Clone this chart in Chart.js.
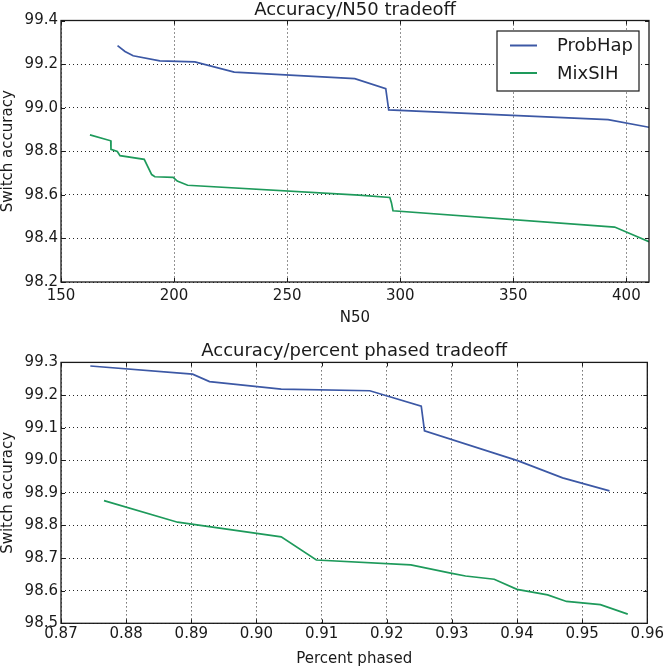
<!DOCTYPE html>
<html>
<head>
<meta charset="utf-8">
<script src="https://cdn.jsdelivr.net/npm/chart.js@4.4.1/dist/chart.umd.min.js"></script>
<style>
  html, body { margin: 0; padding: 0; background: #fff; }
  canvas { position: absolute; left: 0; display: block; }
  #n50Chart { top: 0; }
  #phasedChart { top: 333px; }
</style>
</head>
<body>
<canvas id="n50Chart" width="666" height="333"></canvas>
<canvas id="phasedChart" width="666" height="334"></canvas>
<script>
// --- data ---
const seriesNames = ['ProbHap', 'MixSIH'];

// Accuracy vs N50
const n50ProbHap = [175.0, 178.3, 181.9, 193.7, 209.2, 226.6, 279.9, 293.6, 294.9, 391.9, 410.0];
const accN50ProbHap = [99.285, 99.258, 99.238, 99.215, 99.210, 99.163, 99.133, 99.087, 98.990, 98.945, 98.910];
const n50MixSIH = [162.8, 172.0, 172.1, 174.9, 176.1, 186.8, 190.1, 191.5, 199.6, 201.4, 206.0, 281.7, 295.4, 296.1, 296.8, 394.8, 410.0];
const accN50MixSIH = [98.875, 98.848, 98.809, 98.799, 98.780, 98.763, 98.693, 98.683, 98.680, 98.663, 98.644, 98.599, 98.588, 98.564, 98.527, 98.452, 98.385];

// Accuracy vs percent phased
const pctProbHap = [0.8745, 0.8902, 0.8928, 0.9038, 0.9174, 0.9253, 0.9258, 0.9402, 0.9470, 0.9542];
const accPctProbHap = [99.289, 99.264, 99.241, 99.218, 99.213, 99.166, 99.090, 98.998, 98.946, 98.906];
const pctMixSIH = [0.8766, 0.8879, 0.9038, 0.9092, 0.9237, 0.9300, 0.9321, 0.9365, 0.9400, 0.9447, 0.9476, 0.9528, 0.9570];
const accPctMixSIH = [98.876, 98.810, 98.765, 98.694, 98.679, 98.653, 98.645, 98.635, 98.604, 98.587, 98.567, 98.557, 98.528];

// tick labels
const n50Ticks = [150, 200, 250, 300, 350, 400];
const n50AccTicks = [98.2, 98.4, 98.6, 98.8, 99.0, 99.2, 99.4];
const pctTicks = [0.87, 0.88, 0.89, 0.90, 0.91, 0.92, 0.93, 0.94, 0.95, 0.96];
const pctAccTicks = [98.5, 98.6, 98.7, 98.8, 98.9, 99.0, 99.1, 99.2, 99.3];

const FONT = '"DejaVu Sans", sans-serif';
const BLUE = '#3c58a5';
const GREEN = '#1e9a5b';
const INK = '#1a1a1a';

function toPoints(xs, ys) {
    return xs.map((x, i) => ({ x: x, y: ys[i] }));
}

function lineSet(label, xs, ys, color) {
    return {
        label: label,
        data: toPoints(xs, ys),
        borderColor: color,
        backgroundColor: color,
        borderWidth: 1.7,
        pointRadius: 0,
        tension: 0,
        fill: false,
    };
}

// frame, inward tick marks and the plot title
const framePlugin = {
    id: 'frame',
    afterDraw(chart, args, opts) {
        const { ctx, chartArea: a } = chart;
        const xs = chart.scales.x, ys = chart.scales.y;
        ctx.save();
        ctx.strokeStyle = INK;
        ctx.lineWidth = 1;
        ctx.beginPath();
        xs.ticks.forEach(t => {
            const px = Math.round(xs.getPixelForValue(t.value)) + 0.5;
            ctx.moveTo(px, a.bottom); ctx.lineTo(px, a.bottom - 4);
            ctx.moveTo(px, a.top); ctx.lineTo(px, a.top + 4);
        });
        ys.ticks.forEach(t => {
            const py = Math.round(ys.getPixelForValue(t.value)) + 0.5;
            ctx.moveTo(a.left, py); ctx.lineTo(a.left + 4, py);
            ctx.moveTo(a.right, py); ctx.lineTo(a.right - 4, py);
        });
        ctx.stroke();
        ctx.lineWidth = 1.3;
        ctx.strokeRect(a.left, a.top, a.right - a.left, a.bottom - a.top);

        ctx.fillStyle = INK;
        ctx.font = '18px ' + FONT;
        ctx.textAlign = 'center';
        ctx.textBaseline = 'alphabetic';
        ctx.fillText(opts.text, (a.left + a.right) / 2, opts.baseline);
        ctx.restore();
    }
};

// legend box drawn inside the plot, top right
const boxLegendPlugin = {
    id: 'boxLegend',
    afterDraw(chart, args, opts) {
        if (!opts.show) return;
        const ctx = chart.ctx;
        const a = chart.chartArea;
        const w = 142, h = 60;
        const bx = a.right - 10 - w, by = a.top + 10.5;
        ctx.save();
        ctx.fillStyle = '#fff';
        ctx.fillRect(bx, by, w, h);
        ctx.strokeStyle = INK;
        ctx.lineWidth = 1.2;
        ctx.strokeRect(bx, by, w, h);
        ctx.font = '18px ' + FONT;
        ctx.textAlign = 'left';
        ctx.textBaseline = 'middle';
        chart.data.datasets.forEach((ds, i) => {
            const y = by + 14.5 + i * 27.5;
            ctx.strokeStyle = ds.borderColor;
            ctx.lineWidth = 2;
            ctx.beginPath();
            ctx.moveTo(bx + 13, y);
            ctx.lineTo(bx + 40, y);
            ctx.stroke();
            ctx.fillStyle = INK;
            ctx.fillText(ds.label, bx + 60, y + 1);
        });
        ctx.restore();
    }
};

function makeChart(canvasId, cfg) {
    return new Chart(document.getElementById(canvasId), {
        type: 'line',
        data: {
            datasets: [
                lineSet(seriesNames[0], cfg.xs[0], cfg.ys[0], BLUE),
                lineSet(seriesNames[1], cfg.xs[1], cfg.ys[1], GREEN),
            ],
        },
        options: {
            responsive: false,
            animation: false,
            layout: { padding: { left: 0, right: 17, top: cfg.padTop, bottom: 0 } },
            plugins: {
                legend: { display: false },
                tooltip: { enabled: false },
                frame: { text: cfg.title, baseline: cfg.titleBaseline },
                boxLegend: { show: cfg.legend },
            },
            scales: {
                x: {
                    type: 'linear',
                    min: cfg.xMin,
                    max: cfg.xMax,
                    afterBuildTicks: s => { s.ticks = cfg.xTicks.map(v => ({ value: v })); },
                    afterFit: s => { s.height = cfg.xHeight; },
                    grid: { color: 'rgba(0,0,0,0.85)', lineWidth: 1, drawTicks: false },
                    border: { display: false, dash: [1, 3] },
                    ticks: {
                        color: INK,
                        padding: cfg.xTickPad,
                        autoSkip: false,
                        maxRotation: 0,
                        font: { family: FONT, size: 15 },
                        callback: v => Number(v).toFixed(cfg.xDigits),
                    },
                    title: {
                        display: true,
                        text: cfg.xTitle,
                        color: INK,
                        font: { family: FONT, size: 15, lineHeight: 1 },
                        padding: { top: 0, bottom: cfg.xTitlePad },
                    },
                },
                y: {
                    type: 'linear',
                    min: cfg.yMin,
                    max: cfg.yMax,
                    afterBuildTicks: s => { s.ticks = cfg.yTicks.map(v => ({ value: v })); },
                    afterFit: s => { s.width = 61; },
                    grid: { color: 'rgba(0,0,0,0.85)', lineWidth: 1, drawTicks: false },
                    border: { display: false, dash: [1, 3] },
                    ticks: {
                        color: INK,
                        padding: 3,
                        autoSkip: false,
                        font: { family: FONT, size: 15 },
                        callback: v => Number(v).toFixed(1),
                    },
                    title: {
                        display: true,
                        text: 'Switch accuracy',
                        color: INK,
                        font: { family: FONT, size: 15, lineHeight: 1 },
                        padding: { top: 1, bottom: 0 },
                    },
                },
            },
        },
        plugins: [framePlugin, boxLegendPlugin],
    });
}

makeChart('n50Chart', {
    xs: [n50ProbHap, n50MixSIH],
    ys: [accN50ProbHap, accN50MixSIH],
    title: 'Accuracy/N50 tradeoff',
    titleBaseline: 15,
    legend: true,
    padTop: 20.5,
    xMin: 150, xMax: 410, xTicks: n50Ticks, xDigits: 0,
    yMin: 98.2, yMax: 99.4, yTicks: n50AccTicks,
    xTitle: 'N50',
    xHeight: 51,
    xTickPad: 5,
    xTitlePad: 7.5,
});

makeChart('phasedChart', {
    xs: [pctProbHap, pctMixSIH],
    ys: [accPctProbHap, accPctMixSIH],
    title: 'Accuracy/percent phased tradeoff',
    titleBaseline: 22.5,
    legend: false,
    padTop: 29.4,
    xMin: 0.87, xMax: 0.96, xTicks: pctTicks, xDigits: 2,
    yMin: 98.5, yMax: 99.3, yTicks: pctAccTicks,
    xTitle: 'Percent phased',
    xHeight: 43.7,
    xTickPad: 2,
    xTitlePad: 0,
});
</script>
</body>
</html>
